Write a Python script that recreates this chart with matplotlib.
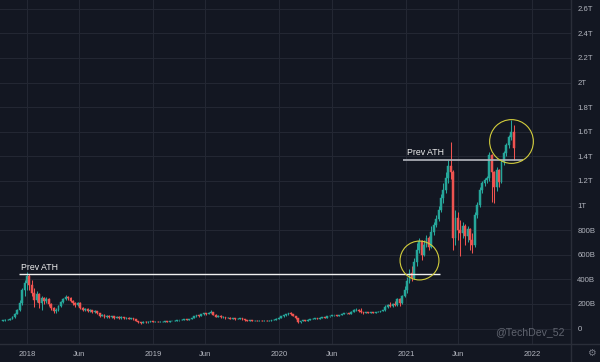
import datetime as dt
import matplotlib
matplotlib.use("Agg")
import matplotlib.pyplot as plt
import matplotlib.dates as mdates
from matplotlib.lines import Line2D

# ---------------- data (values in billions) ----------------
start_date = dt.date(2017, 10, 23)   # first weekly candle
first_open = 65

closes = [69, 70, 73, 81, 93, 118, 150, 207, 313, 370,
          427, 354, 289, 232, 280, 207, 248, 224, 240, 199,
          167, 142, 150, 183, 215, 240, 256, 248, 224, 207,
          191, 207, 167, 150, 159, 142, 150, 134, 142, 126,
          102, 110, 93, 102, 93, 98, 89, 93, 85, 93,
          85, 89, 81, 85, 77, 61, 49, 45, 53, 49,
          53, 57, 54, 56, 53, 55, 56, 59, 56, 60,
          61, 64, 66, 69, 72, 76, 73, 77, 85, 100,
          108, 101, 117, 126, 118, 128, 134, 112, 95, 103,
          90, 94, 85, 89, 81, 85, 77, 81, 85, 77,
          69, 65, 69, 61, 65, 61, 65, 61, 65, 61,
          65, 69, 73, 81, 89, 98, 106, 114, 122, 114,
          102, 85, 49, 61, 69, 65, 73, 77, 81, 85,
          81, 89, 93, 89, 98, 102, 106, 106, 102, 110,
          118, 122, 126, 118, 138, 150, 154, 142, 134, 126,
          134, 130, 134, 130, 134, 138, 142, 150, 175, 191,
          179, 199, 191, 240, 207, 264, 313, 386, 451, 411,
          541, 638, 711, 598, 679, 736, 663, 785, 841, 890,
          963, 1061, 1126, 1224, 1321, 1272, 736, 898, 801, 776,
          833, 752, 809, 720, 679, 923, 1004, 1126, 1183, 1207,
          1224, 1411, 1272, 1150, 1289, 1191, 1354, 1427, 1492, 1557,
          1598, 1467]

highs = [73, 74, 77, 85, 98, 126, 159, 232, 329, 394,
         459, 443, 394, 329, 305, 289, 264, 256, 256, 248,
         207, 175, 167, 191, 224, 248, 272, 268, 256, 232,
         215, 215, 212, 175, 167, 163, 159, 154, 150, 146,
         130, 118, 114, 106, 106, 102, 102, 98, 98, 98,
         96, 93, 93, 89, 89, 81, 65, 53, 57, 57,
         57, 61, 61, 60, 59, 58, 59, 62, 61, 63,
         64, 67, 69, 72, 75, 79, 78, 81, 89, 104,
         112, 112, 121, 130, 130, 132, 150, 136, 114, 108,
         106, 98, 96, 92, 90, 89, 87, 85, 88, 86,
         78, 71, 72, 70, 68, 66, 68, 66, 68, 66,
         68, 72, 76, 84, 92, 101, 109, 117, 126, 136,
         118, 104, 88, 65, 72, 72, 76, 80, 84, 88,
         87, 92, 96, 95, 100, 105, 109, 110, 108, 113,
         121, 125, 129, 128, 141, 156, 167, 156, 167, 138,
         137, 136, 137, 136, 137, 141, 145, 154, 191, 199,
         215, 207, 224, 248, 248, 272, 346, 419, 484, 508,
         573, 695, 736, 720, 720, 760, 752, 833, 866, 923,
         996, 1094, 1183, 1272, 1370, 1516, 1289, 963, 947, 882,
         866, 850, 833, 817, 776, 947, 1028, 1150, 1199, 1224,
         1240, 1435, 1420, 1280, 1310, 1300, 1370, 1440, 1505, 1575,
         1695, 1654]

lows = [61, 63, 66, 70, 77, 89, 114, 142, 191, 264,
        313, 313, 264, 175, 215, 167, 150, 199, 207, 183,
        150, 126, 126, 142, 175, 207, 232, 232, 215, 191,
        175, 183, 159, 142, 142, 134, 134, 126, 130, 118,
        93, 98, 85, 89, 85, 89, 81, 85, 81, 81,
        81, 81, 77, 77, 73, 57, 45, 37, 41, 45,
        45, 49, 50, 51, 50, 50, 52, 53, 53, 54,
        57, 58, 61, 63, 66, 70, 69, 70, 75, 82,
        97, 96, 98, 113, 112, 114, 124, 106, 90, 92,
        86, 88, 81, 83, 77, 79, 73, 75, 79, 73,
        65, 61, 63, 58, 59, 57, 59, 57, 59, 57,
        59, 63, 67, 70, 78, 86, 95, 103, 111, 106,
        98, 80, 41, 45, 58, 61, 63, 70, 74, 78,
        77, 78, 86, 85, 86, 95, 99, 101, 98, 100,
        107, 114, 119, 114, 116, 134, 146, 138, 130, 120,
        123, 126, 127, 126, 127, 131, 134, 139, 146, 170,
        172, 176, 185, 187, 183, 200, 256, 289, 370, 386,
        402, 508, 614, 557, 590, 663, 638, 655, 760, 825,
        875, 950, 1020, 1100, 1183, 1216, 638, 679, 720, 590,
        736, 679, 703, 638, 614, 663, 900, 990, 1100, 1160,
        1180, 1200, 1028, 1020, 1120, 1150, 1180, 1330, 1400, 1470,
        1530, 1370]

y_ticks = [0, 200, 400, 600, 800, 1000, 1200, 1400, 1600, 1800, 2000, 2200, 2400, 2600]
y_tick_labels = ["0", "200B", "400B", "600B", "800B", "1T", "1.2T", "1.4T",
                 "1.6T", "1.8T", "2T", "2.2T", "2.4T", "2.6T"]
x_tick_dates = [dt.date(2018, 1, 1), dt.date(2018, 6, 1), dt.date(2019, 1, 1),
                dt.date(2019, 6, 1), dt.date(2020, 1, 1), dt.date(2020, 6, 1),
                dt.date(2021, 1, 1), dt.date(2021, 6, 1), dt.date(2022, 1, 1)]
x_tick_labels = ["2018", "Jun", "2019", "Jun", "2020", "Jun", "2021", "Jun", "2022"]

prev_ath_2018 = 443
prev_ath_2021 = 1370
ath_line_1 = (dt.date(2017, 12, 9), dt.date(2021, 4, 9))
ath_line_2 = (dt.date(2020, 12, 23), dt.date(2021, 12, 4))
circle_1 = (172, 557)    # (candle index, value)
circle_2 = (210, 1524)
watermark = "@TechDev_52"

# ---------------- figure ----------------
BG = "#131722"
GRID = "#232733"
SEP = "#2a2e39"
TXT = "#b2b5be"
UP = "#26a69a"
DOWN = "#ef5350"
CIRC = "#d2cd3c"

n = min(len(closes), len(highs), len(lows))
closes, highs, lows = closes[:n], highs[:n], lows[:n]
opens = [first_open] + closes[:-1]
dates = [start_date + dt.timedelta(weeks=i) for i in range(n)]
xd = mdates.date2num(dates)

W, H = 600, 362
fig = plt.figure(figsize=(W / 100, H / 100), dpi=100)
fig.patch.set_facecolor(BG)
ax = fig.add_axes([0, 18 / H, 571 / W, 344 / H])
ax.set_facecolor(BG)

cols = [UP if c >= o else DOWN for o, c in zip(opens, closes)]
ax.vlines(xd, lows, highs, colors=cols, lw=0.75, zorder=3)
bottoms = [min(o, c) for o, c in zip(opens, closes)]
heights = [abs(c - o) for o, c in zip(opens, closes)]
ax.bar(xd, heights, bottom=bottoms, width=5.4, color=cols, edgecolor=cols,
       linewidth=0.35, zorder=4)

# prev ATH lines
ax.plot(mdates.date2num(list(ath_line_1)), [prev_ath_2018, prev_ath_2018],
        color="#f0f0f0", lw=1.0, zorder=5, solid_capstyle="butt")
ax.plot(mdates.date2num(list(ath_line_2)), [prev_ath_2021, prev_ath_2021],
        color="#b4b7bf", lw=1.2, zorder=5, solid_capstyle="butt")
ax.text(mdates.date2num(dt.date(2017, 12, 16)), 492, "Prev ATH", color="#f0f0f0",
        fontsize=6.3, family="Liberation Sans", ha="left", va="center", zorder=6)
ax.text(mdates.date2num(dt.date(2021, 1, 3)), 1427, "Prev ATH", color="#f0f0f0",
        fontsize=6.3, family="Liberation Sans", ha="left", va="center", zorder=6)

# circles
ax.plot([xd[circle_1[0]]], [circle_1[1]], marker="o", ms=28, mfc="none",
        mec=CIRC, mew=0.8, zorder=6)
ax.plot([xd[circle_2[0]]], [circle_2[1]], marker="o", ms=31.5, mfc="none",
        mec=CIRC, mew=0.8, zorder=6)

# axes
ax.set_xlim(mdates.date2num(dt.date(2017, 10, 15)), mdates.date2num(dt.date(2022, 4, 23)))
ax.set_ylim(-126, 2671)
ax.set_xticks(mdates.date2num(x_tick_dates))
ax.set_xticklabels(x_tick_labels)
ax.set_yticks(y_ticks)
ax.set_yticklabels(y_tick_labels)
ax.yaxis.tick_right()
ax.tick_params(axis="both", length=0, labelcolor=TXT, labelsize=5.6)
ax.tick_params(axis="y", pad=4.5)
ax.tick_params(axis="x", pad=5)
for lab in ax.get_xticklabels() + ax.get_yticklabels():
    lab.set_family("Liberation Sans")
ax.grid(True, color=GRID, lw=0.8, zorder=0)
ax.set_axisbelow(True)
for s in ax.spines.values():
    s.set_visible(False)

# separators
fig.add_artist(Line2D([571 / W, 571 / W], [0, 1], color=SEP, lw=1.0))
fig.add_artist(Line2D([0, 1], [18 / H, 18 / H], color=SEP, lw=1.0))

fig.text(565 / W, 1 - 332 / H, watermark, ha="right", va="center",
         color="#5f636e", fontsize=7.6, family="Liberation Sans")
fig.text(591 / W, 1 - 353 / H, "\u2699", ha="center", va="center",
         color="#787b86", fontsize=7, family="DejaVu Sans")

fig.savefig("out.png", dpi=100, facecolor=BG)
